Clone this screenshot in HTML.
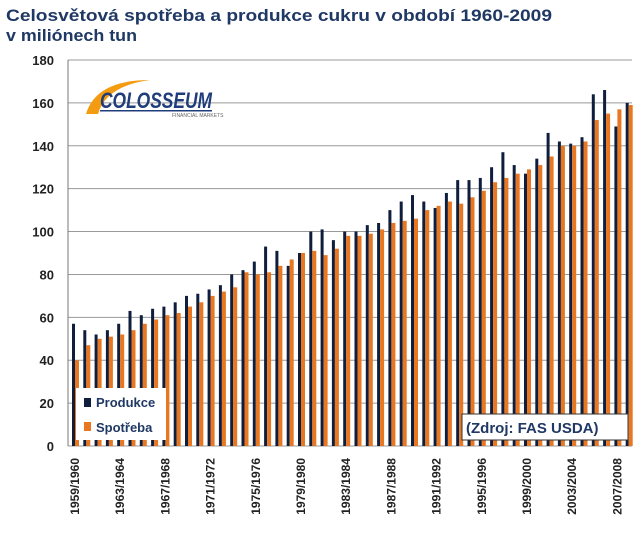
<!DOCTYPE html>
<html><head><meta charset="utf-8"><style>
body{margin:0;background:#fff;font-family:"Liberation Sans",sans-serif}
svg text{font-family:"Liberation Sans",sans-serif}
</style></head><body>
<svg width="640" height="538">
<text x="6" y="21" font-size="17" font-weight="bold" fill="#1f3864" textLength="546" lengthAdjust="spacingAndGlyphs">Celosvětová spotřeba a produkce cukru v období 1960-2009</text>
<text x="6" y="41" font-size="17" font-weight="bold" fill="#1f3864" textLength="131" lengthAdjust="spacingAndGlyphs">v miliónech tun</text>
<g id="grid"></g><g id="bars"></g><g id="xl"></g>
<g>
<path d="M86 114 Q96 80 150 80 Q106 86 98 114Z" fill="#f39c12"/>
<text x="100" y="108" font-size="22" font-weight="bold" font-style="italic" fill="#1f3d7a" textLength="112" lengthAdjust="spacingAndGlyphs">COLOSSEUM</text>
<text x="172" y="117" font-size="5" fill="#666">FINANCIAL MARKETS</text>
<rect x="100" y="110" width="112" height="1.5" fill="#1f3d7a"/>
</g>
<g>
<rect x="76" y="388" width="90" height="52" fill="#fff"/>
<rect x="84" y="398" width="7" height="9" fill="#0f1e3c"/>
<text x="96" y="407" font-size="13" font-weight="bold" fill="#1f3864">Produkce</text>
<rect x="84" y="422" width="7" height="9" fill="#e87722"/>
<text x="96" y="432" font-size="13" font-weight="bold" fill="#1f3864">Spotřeba</text>
</g>
<g>
<rect x="462" y="414" width="166" height="26" fill="#fff" stroke="#333"/>
<text x="466" y="433" font-size="15" font-weight="bold" fill="#1f3864">(Zdroj: FAS USDA)</text>
</g>
</svg>
<script>
const prod=[57,54,52,54,57,63,61,64,65,67,70,71,73,75,80,82,86,93,91,84,90,100,101,96,100,100,103,104,110,114,117,114,111,118,124,124,125,130,137,131,127,134,146,142,141,144,164,166,149,160];
const cons=[40,47,50,51,52,54,57,59,61,62,65,67,70,72,74,81,80,81,84,87,90,91,89,92,98,98,99,101,104,105,106,110,112,114,113,116,119,123,125,127,129,131,135,140,140,142,152,155,157,159];
const ticks=[0,20,40,60,80,100,120,140,160,180];
const labels=["1959/1960","1963/1964","1967/1968","1971/1972","1975/1976","1979/1980","1983/1984","1987/1988","1991/1992","1995/1996","1999/2000","2003/2004","2007/2008"];
const NS='http://www.w3.org/2000/svg';
const y0=446,ppu=386/180,x0=72,step=11.3;
const Y=v=>y0-v*ppu, X=i=>x0+i*step;
function mk(t,a,p){const e=document.createElementNS(NS,t);for(const k in a)e.setAttribute(k,a[k]);p.appendChild(e);return e;}
const g=document.getElementById('grid');
ticks.forEach(t=>{
 const l=mk('line',{x1:68,x2:632,y1:Y(t),y2:Y(t),stroke:'#999','stroke-width':1},g);
 
 
 const tx=mk('text',{x:54,y:Y(t)+5,'text-anchor':'end','font-size':13,'font-weight':'bold',fill:'#222'},g);
 tx.textContent=t;
 
 
});
const ax=mk('line',{x1:68,x2:68,y1:60,y2:446,stroke:'#777'},g);


const b=document.getElementById('bars');
prod.forEach((v,i)=>{
 const r=mk('rect',{x:X(i),y:Y(v),width:3,height:v*ppu,fill:'#0f1e3c'},b);
 
 
 const c=cons[i];
 const r2=mk('rect',{x:X(i)+3,y:Y(c),width:4,height:c*ppu,fill:'#e87722'},b);
 
 
});
const xl=document.getElementById('xl');
labels.forEach((s,k)=>{
 const x=X(k*4)+7;
 const t=mk('text',{x:x,y:458,'text-anchor':'end','font-size':12,'font-weight':'bold',fill:'#222',transform:`rotate(-90 ${x} 458)`},xl);
 t.textContent=s;
 
 
});
</script>
</body></html>
